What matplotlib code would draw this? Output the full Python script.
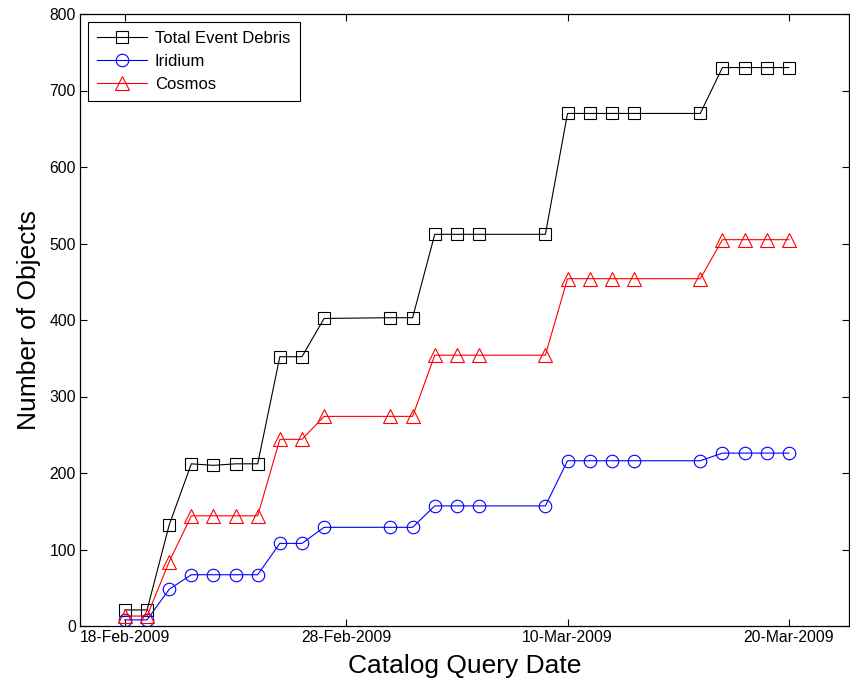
import datetime as dt
import matplotlib
matplotlib.use("Agg")
import matplotlib.pyplot as plt

plt.rcParams['font.family'] = ['Liberation Sans', 'DejaVu Sans']

# Days after 18-Feb-2009 for each catalog query
day_offsets = [0, 1, 2, 3, 4, 5, 6, 7, 8, 9, 12, 13, 14, 15, 16, 19, 20, 21, 22, 23, 26, 27, 28, 29, 30]
total_debris = [21, 21, 132, 212, 210, 212, 212, 352, 352, 402, 403, 403, 512, 512, 512, 512,
                670, 670, 670, 670, 670, 730, 730, 730, 730]
iridium = [8, 8, 48, 67, 67, 67, 67, 108, 108, 129, 129, 129, 157, 157, 157, 157,
           216, 216, 216, 216, 216, 226, 226, 226, 226]
cosmos = [13, 13, 84, 144, 144, 144, 144, 244, 244, 274, 274, 274, 354, 354, 354, 354,
          454, 454, 454, 454, 454, 505, 505, 505, 505]
tick_dates = ['18-Feb-2009', '28-Feb-2009', '10-Mar-2009', '20-Mar-2009']

start = dt.datetime(2009, 2, 18)
dates = [start + dt.timedelta(days=d) for d in day_offsets]

fig = plt.figure(figsize=(8.5, 6.83), dpi=100)
ax = fig.add_axes([80/850, 57/683, (849-80)/850, (626-14)/683])

lw = 0.8
ms = 9
ax.plot(dates, total_debris, color='black', marker='s', mfc='none', mec='black',
        ms=ms, mew=0.8, lw=lw, label='Total Event Debris')
ax.plot(dates, iridium, color='blue', marker='o', mfc='none', mec='blue',
        ms=ms, mew=0.8, lw=lw, label='Iridium')
ax.plot(dates, cosmos, color='red', marker='^', mfc='none', mec='red',
        ms=ms + 1, mew=0.8, lw=lw, label='Cosmos')

ax.set_xlim(start - dt.timedelta(days=2.03), start + dt.timedelta(days=32.72))
ax.set_ylim(0, 800)
ax.set_yticks(range(0, 801, 100))
ticks = [dt.datetime.strptime(t, '%d-%b-%Y') for t in tick_dates]
ax.set_xticks(ticks)
ax.set_xticklabels(tick_dates)

ax.tick_params(direction='in', length=5, width=0.8, top=True, right=True,
               labelsize=11.3, pad=3)
for s in ax.spines.values():
    s.set_linewidth(0.9)

ax.set_xlabel('Catalog Query Date', fontsize=19, labelpad=6)
ax.set_ylabel('Number of Objects', fontsize=19, labelpad=6)

leg = ax.legend(loc='upper left', fontsize=12, frameon=True, fancybox=False,
                edgecolor='black', framealpha=1, borderpad=0.55, handlelength=3.0,
                handletextpad=0.5, labelspacing=0.48, borderaxespad=0.45)
leg.get_frame().set_linewidth(0.8)

fig.savefig('out.png', dpi=100)
